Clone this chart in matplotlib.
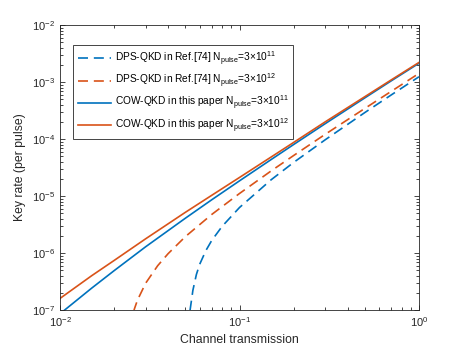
import matplotlib
matplotlib.use("Agg")
import matplotlib.pyplot as plt
from matplotlib.ticker import LogLocator, NullFormatter

plt.rcParams['font.family'] = ['Liberation Sans', 'DejaVu Sans']
plt.rcParams['mathtext.fontset'] = 'custom'
plt.rcParams['mathtext.rm'] = 'Liberation Sans'
plt.rcParams['mathtext.it'] = 'Liberation Sans:italic'
plt.rcParams['mathtext.default'] = 'regular'

BLUE = '#0072BD'
ORANGE = '#D95319'

# COW-QKD, this paper
cow_eta = [0.01, 0.015, 0.02, 0.03, 0.05, 0.07, 0.1, 0.15, 0.2, 0.3, 0.5, 0.7, 1.0]
cow_11 = [8.6e-8, 2.42e-7, 4.9e-7, 1.29e-6, 4.1e-6, 8.6e-6, 1.85e-5, 4.37e-5,
          8.0e-5, 1.86e-4, 5.3e-4, 1.05e-3, 2.14e-3]
cow_12 = [1.6e-7, 4.0e-7, 7.4e-7, 1.78e-6, 5.2e-6, 1.03e-5, 2.12e-5, 4.84e-5,
          8.7e-5, 2.0e-4, 5.56e-4, 1.09e-3, 2.21e-3]

# DPS-QKD, Ref.[74]
dps_eta_11 = [0.053, 0.055, 0.0575, 0.06, 0.065, 0.07, 0.08, 0.1, 0.15, 0.2,
              0.3, 0.5, 0.7, 1.0]
dps_11 = [9.8e-8, 2.23e-7, 4.2e-7, 6.36e-7, 1.11e-6, 1.66e-6, 2.94e-6, 6.3e-6,
          1.93e-5, 3.88e-5, 9.7e-5, 2.93e-4, 5.94e-4, 1.24e-3]
dps_eta_12 = [0.0257, 0.026, 0.027, 0.03, 0.035, 0.04, 0.05, 0.07, 0.1, 0.15,
              0.2, 0.3, 0.5, 0.7, 1.0]
dps_12 = [9.3e-8, 1.06e-7, 1.49e-7, 2.96e-7, 6.0e-7, 9.75e-7, 1.95e-6, 4.75e-6,
          1.11e-5, 2.76e-5, 5.13e-5, 1.21e-4, 3.46e-4, 6.87e-4, 1.42e-3]

labels = [
    r'DPS-QKD in Ref.[74] N$_{pulse}$=3×10$^{11}$',
    r'DPS-QKD in Ref.[74] N$_{pulse}$=3×10$^{12}$',
    r'COW-QKD in this paper N$_{pulse}$=3×10$^{11}$',
    r'COW-QKD in this paper N$_{pulse}$=3×10$^{12}$',
]

fig = plt.figure(figsize=(4.63, 3.48), dpi=100)
ax = fig.add_axes([0.1296, 0.109, 0.7754, 0.819])

ax.plot(dps_eta_11, dps_11, color=BLUE, lw=1.2, dashes=(6, 3.5), label=labels[0])
ax.plot(dps_eta_12, dps_12, color=ORANGE, lw=1.2, dashes=(6, 3.5), label=labels[1])
ax.plot(cow_eta, cow_11, color=BLUE, lw=1.2, label=labels[2])
ax.plot(cow_eta, cow_12, color=ORANGE, lw=1.2, label=labels[3])

ax.set_xscale('log')
ax.set_yscale('log')
ax.set_xlim(1e-2, 1)
ax.set_ylim(1e-7, 1e-2)
ax.xaxis.set_minor_locator(LogLocator(base=10, subs=range(2, 10)))
ax.yaxis.set_minor_locator(LogLocator(base=10, subs=range(2, 10)))
ax.xaxis.set_minor_formatter(NullFormatter())
ax.yaxis.set_minor_formatter(NullFormatter())

ax.tick_params(which='both', direction='in', top=True, right=True,
               colors='#262626', labelsize=8, width=0.6)
ax.tick_params(which='major', length=3.5)
ax.tick_params(which='minor', length=2)
for s in ax.spines.values():
    s.set_color('#262626')
    s.set_linewidth(0.6)

ax.set_xlabel('Channel transmission', fontsize=8.8, color='#262626')
ax.set_ylabel('Key rate (per pulse)', fontsize=8.8, color='#262626')

leg = ax.legend(loc='upper left', bbox_to_anchor=(0.037, 0.93), borderaxespad=0,
                fontsize=7.3, fancybox=False, framealpha=1, edgecolor='#262626',
                handlelength=3.3, handletextpad=0.35, borderpad=0.45,
                labelspacing=0.4)
leg.get_frame().set_linewidth(0.6)

fig.savefig('out.png', dpi=100)
